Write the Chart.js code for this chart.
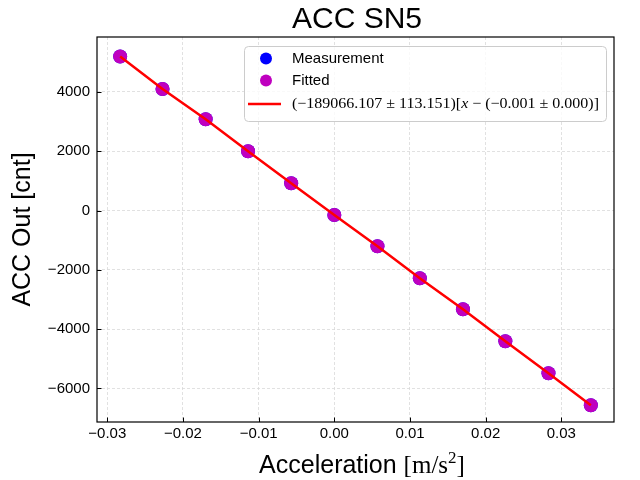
<!DOCTYPE html>
<html>
<head>
<meta charset="utf-8">
<script src="https://cdn.jsdelivr.net/npm/chart.js@4.4.1/dist/chart.umd.min.js"></script>
<style>
html,body{margin:0;padding:0;background:#fff;}
#wrap{width:640px;height:480px;}
</style>
</head>
<body>
<div id="wrap"><canvas id="c" width="640" height="480"></canvas></div>
<script>
// ---- text ----
const titleText = 'ACC SN5';
const xLabelMain = 'Acceleration';
const xLabelUnit = 'm/s';
const xLabelPow = '2';
const yLabelText = 'ACC Out [cnt]';
const seriesLabels = ['Measurement', 'Fitted'];
const fitSlope = '\u2212189066.107';
const fitSlopeErr = '113.151';
const fitOffset = '\u22120.001';
const fitOffsetErr = '0.000';

// ---- data ----
const accel = [-0.0283, -0.0227, -0.0170, -0.0114, -0.0057, 0.0000, 0.0057, 0.0113, 0.0170, 0.0226, 0.0283, 0.0339];
const measured = [5194, 4098, 3076, 1997, 917, -152, -1207, -2287, -3332, -4411, -5491, -6570];
const fitted = [5194, 4098, 3076, 1997, 917, -152, -1207, -2287, -3332, -4411, -5491, -6570];

// ---- axes ----
const xTicks = [-0.03, -0.02, -0.01, 0.00, 0.01, 0.02, 0.03];
const yTicks = [-6000, -4000, -2000, 0, 2000, 4000];
const xRange = [-0.03136, 0.03696];
const yRange = [-7133, 5852];

const colMeas = '#0000ff';
const colFit = '#bf00bf';
const colLine = '#ff0000';
const sans = '"Liberation Sans", Arial, Helvetica, sans-serif';
const serif = '"Liberation Serif", "DejaVu Serif", serif';

function fmtMinus(s){ return s.replace('-', '\u2212'); }

const toPts = (xs, ys) => xs.map((x, i) => ({x: x, y: ys[i]}));

const decor = {
  id: 'decor',
  afterDraw(chart) {
    const ctx = chart.ctx;
    const a = chart.chartArea;
    const xs = chart.scales.x, ys = chart.scales.y;
    ctx.save();
    // frame
    ctx.strokeStyle = '#000';
    ctx.lineWidth = 1.2;
    ctx.strokeRect(a.left, a.top, a.right - a.left, a.bottom - a.top);
    // inward ticks
    ctx.lineWidth = 1;
    ctx.beginPath();
    xs.ticks.forEach(t => {
      const px = Math.round(xs.getPixelForValue(t.value)) + 0.5;
      ctx.moveTo(px, a.bottom); ctx.lineTo(px, a.bottom - 4.5);
    });
    ys.ticks.forEach(t => {
      const py = Math.round(ys.getPixelForValue(t.value)) + 0.5;
      ctx.moveTo(a.left, py); ctx.lineTo(a.left + 4.5, py);
    });
    ctx.stroke();

    // title
    const cx = (a.left + a.right) / 2;
    ctx.fillStyle = '#000';
    ctx.font = '30px ' + sans;
    ctx.textAlign = 'center';
    ctx.textBaseline = 'alphabetic';
    ctx.fillText(titleText, cx + 1.5, a.top - 9);

    // x label with mixed fonts
    const fMain = '25px ' + sans, fSer = '25px ' + serif, fPow = '17px ' + serif;
    ctx.font = fMain; const w1 = ctx.measureText(xLabelMain + ' ').width;
    ctx.font = fSer; const w2 = ctx.measureText('[' + xLabelUnit).width;
    ctx.font = fPow; const w3 = ctx.measureText(xLabelPow).width;
    ctx.font = fSer; const w4 = ctx.measureText(']').width;
    let x0 = cx + 6.5 - (w1 + w2 + w3 + w4) / 2;
    const base = 472.5;
    ctx.textAlign = 'left';
    ctx.font = fMain; ctx.fillText(xLabelMain + ' ', x0, base); x0 += w1;
    ctx.font = fSer; ctx.fillText('[' + xLabelUnit, x0, base); x0 += w2;
    ctx.font = fPow; ctx.fillText(xLabelPow, x0, base - 10); x0 += w3;
    ctx.font = fSer; ctx.fillText(']', x0, base);

    // legend
    const L = a.right - 370, T = a.top + 9, R = a.right - 8, B = a.top + 84;
    ctx.fillStyle = 'rgba(255,255,255,0.8)';
    ctx.strokeStyle = '#cccccc';
    ctx.lineWidth = 1;
    ctx.beginPath();
    ctx.roundRect(L + 0.5, T + 0.5, R - L, B - T, 4);
    ctx.fill(); ctx.stroke();
    const mx = L + 22, tx = L + 48;
    const rows = [T + 12.5, T + 34.5, T + 58];
    ctx.fillStyle = colMeas;
    ctx.beginPath(); ctx.arc(mx, rows[0], 6, 0, Math.PI * 2); ctx.fill();
    ctx.fillStyle = colFit;
    ctx.beginPath(); ctx.arc(mx, rows[1], 6, 0, Math.PI * 2); ctx.fill();
    ctx.strokeStyle = colLine; ctx.lineWidth = 2.5;
    ctx.beginPath(); ctx.moveTo(L + 4, rows[2]); ctx.lineTo(L + 37, rows[2]); ctx.stroke();
    ctx.fillStyle = '#000';
    ctx.font = '15px ' + sans;
    ctx.textBaseline = 'middle';
    ctx.fillText(seriesLabels[0], tx, rows[0]);
    ctx.fillText(seriesLabels[1], tx, rows[1]);
    // fit label (math style)
    const partsA = '(' + fitSlope + ' \u00b1 ' + fitSlopeErr + ')[';
    const partsB = ' \u2212 (' + fitOffset + ' \u00b1 ' + fitOffsetErr + ')]';
    let fs = 15;
    const measureFit = (s) => {
      ctx.font = s + 'px ' + serif; const wa = ctx.measureText(partsA).width, wb = ctx.measureText(partsB).width;
      ctx.font = 'italic ' + s + 'px ' + serif; const wx = ctx.measureText('x').width;
      return wa + wb + wx;
    };
    const wFull = measureFit(fs);
    const sx = 307 / wFull;
    ctx.save();
    ctx.translate(tx, rows[2]);
    ctx.scale(sx, 1);
    let px = 0;
    ctx.font = fs + 'px ' + serif; ctx.fillText(partsA, px, 0); px += ctx.measureText(partsA).width;
    ctx.font = 'italic ' + fs + 'px ' + serif; ctx.fillText('x', px, 0); px += ctx.measureText('x').width;
    ctx.font = fs + 'px ' + serif; ctx.fillText(partsB, px, 0);
    ctx.restore();
    ctx.restore();
  }
};

new Chart(document.getElementById('c'), {
  type: 'scatter',
  data: {
    datasets: [
      {
        type: 'line',
        label: 'fit',
        data: toPts(accel, fitted),
        borderColor: colLine,
        borderWidth: 2.5,
        pointRadius: 0,
        fill: false,
        tension: 0,
        order: 0
      },
      {
        label: seriesLabels[1],
        data: toPts(accel, fitted),
        backgroundColor: colFit,
        borderWidth: 0,
        pointRadius: 7,
        order: 1
      },
      {
        label: seriesLabels[0],
        data: toPts(accel, measured),
        backgroundColor: colMeas,
        borderWidth: 0,
        pointRadius: 7,
        order: 2
      }
    ]
  },
  options: {
    responsive: false,
    animation: false,
    devicePixelRatio: 1,
    layout: { padding: { left: 0, top: 37, right: 26, bottom: 0 } },
    plugins: {
      legend: { display: false },
      title: { display: false },
      tooltip: { enabled: false }
    },
    scales: {
      x: {
        type: 'linear',
        min: xRange[0], max: xRange[1],
        afterBuildTicks: s => { s.ticks = xTicks.map(v => ({value: v})); },
        afterFit: s => { s.height = 58; },
        ticks: {
          color: '#000',
          font: { family: sans, size: 15 },
          padding: 3,
          maxRotation: 0,
          callback: v => fmtMinus(v.toFixed(2))
        },
        grid: { color: '#d9d9d9', lineWidth: 0.8, drawTicks: false },
        border: { display: false, dash: [3, 2] }
      },
      y: {
        type: 'linear',
        min: yRange[0], max: yRange[1],
        afterBuildTicks: s => { s.ticks = yTicks.map(v => ({value: v})); },
        afterFit: s => { s.width = 97; },
        ticks: {
          color: '#000',
          font: { family: sans, size: 15 },
          padding: 7,
          callback: v => fmtMinus(String(v))
        },
        title: {
          display: true,
          text: yLabelText,
          color: '#000',
          font: { family: sans, size: 25 },
          padding: { top: 8.6, bottom: 0 }
        },
        grid: { color: '#d9d9d9', lineWidth: 0.8, drawTicks: false },
        border: { display: false, dash: [3, 2] }
      }
    }
  },
  plugins: [decor]
});
</script>
</body>
</html>
